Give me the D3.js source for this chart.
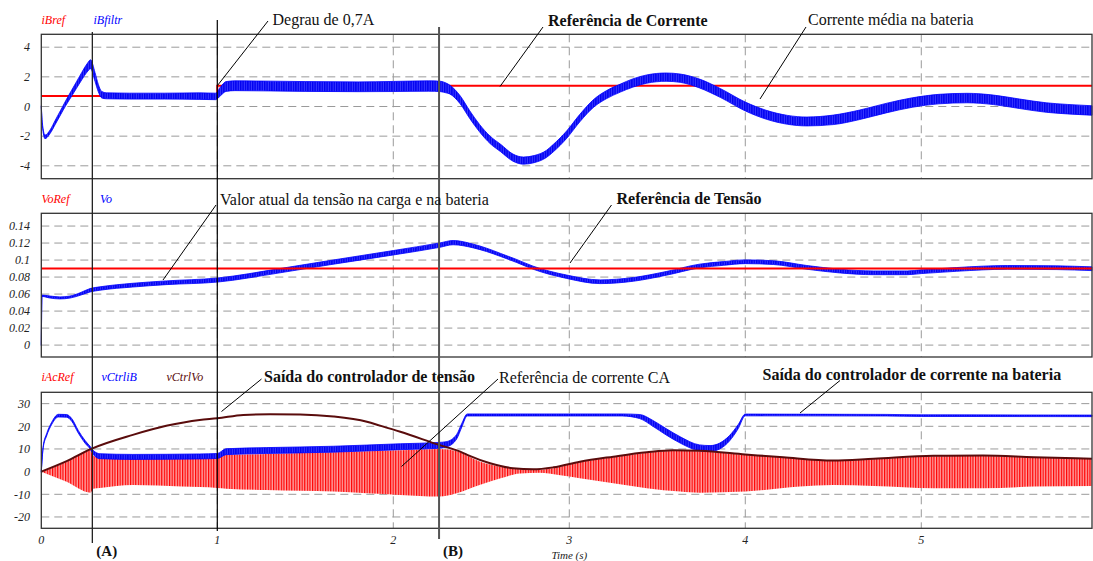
<!DOCTYPE html>
<html>
<head>
<meta charset="utf-8">
<script src="https://cdn.jsdelivr.net/npm/d3@7"></script>
<style>
  html, body { margin: 0; padding: 0; background: #fff; }
  svg { display: block; }
  text { font-family: "Liberation Serif", "Times New Roman", serif; }
</style>
</head>
<body>
<svg id="chart" width="1093" height="561"></svg>
<script>
// ---------- data ----------
// time axis (s)
const xTicks = [0, 1, 2, 3, 4, 5];

// Panel 1: battery current
const iBTicks = [-4, -2, 0, 2, 4];
const iBrefT = [0, 1.0, 1.0, 5.97];
const iBrefV = [0.7, 0.7, 1.4, 1.4];
const iBT = [0, 0.006, 0.021, 0.05, 0.08, 0.11, 0.14, 0.17, 0.2, 0.23, 0.26, 0.28, 0.305, 0.324, 0.343, 0.37, 0.5, 0.7, 0.9, 0.99, 1.02, 1.05, 1.1, 1.3, 1.5, 1.8, 2.0, 2.2, 2.27, 2.3, 2.32, 2.38, 2.435, 2.49, 2.55, 2.61, 2.68, 2.74, 2.8, 2.87, 2.91, 2.985, 3.06, 3.14, 3.21, 3.29, 3.36, 3.44, 3.55, 3.63, 3.74, 3.86, 4.0, 4.12, 4.24, 4.35, 4.5, 4.65, 4.8, 4.95, 5.1, 5.26, 5.41, 5.56, 5.71, 5.83, 5.97];
const iBV = [0, -1.2, -2.05, -1.7, -1.05, -0.4, 0.25, 0.85, 1.45, 2.05, 2.6, 2.85, 2.0, 1.24, 0.8, 0.72, 0.7, 0.7, 0.7, 0.68, 1.05, 1.35, 1.4, 1.38, 1.35, 1.33, 1.35, 1.38, 1.35, 1.25, 1.15, 0.45, -0.56, -1.46, -2.25, -2.8, -3.45, -3.65, -3.55, -3.2, -2.8, -1.9, -0.78, 0.23, 0.79, 1.24, 1.58, 1.85, 1.98, 1.91, 1.55, 0.9, 0, -0.56, -0.9, -1.01, -0.9, -0.56, -0.11, 0.27, 0.5, 0.57, 0.45, 0.18, -0.07, -0.18, -0.27];
const iBRipple = [0.05, 0.1, 0.12, 0.12, 0.14, 0.15, 0.17, 0.2, 0.22, 0.25, 0.28, 0.3, 0.3, 0.25, 0.22, 0.2, 0.2, 0.2, 0.22, 0.22, 0.3, 0.33, 0.33, 0.33, 0.33, 0.33, 0.34, 0.35, 0.35, 0.33, 0.3, 0.27, 0.26, 0.25, 0.25, 0.25, 0.24, 0.24, 0.24, 0.24, 0.25, 0.25, 0.25, 0.26, 0.27, 0.27, 0.28, 0.28, 0.28, 0.28, 0.3, 0.3, 0.3, 0.3, 0.3, 0.3, 0.32, 0.32, 0.32, 0.32, 0.32, 0.32, 0.32, 0.32, 0.32, 0.32, 0.32];

// Panel 2: output voltage
const voTicks = [0, 0.02, 0.04, 0.06, 0.08, 0.1, 0.12, 0.14];
const voRefT = [0, 5.97];
const voRefV = [0.09, 0.09];
const voT = [0, 0.004, 0.05, 0.106, 0.163, 0.22, 0.277, 0.333, 0.52, 0.71, 1.0, 1.356, 1.64, 2.0, 2.265, 2.34, 2.455, 2.53, 2.61, 2.7, 2.795, 2.985, 3.175, 3.364, 3.55, 3.74, 3.875, 4.0, 4.16, 4.35, 4.54, 4.73, 4.92, 5.0, 5.2, 5.49, 5.77, 5.97];
const voV = [0.0, 0.058, 0.0565, 0.0555, 0.0565, 0.06, 0.0645, 0.0665, 0.0705, 0.0733, 0.0765, 0.0875, 0.097, 0.1086, 0.1176, 0.1205, 0.1165, 0.112, 0.106, 0.099, 0.091, 0.0804, 0.0745, 0.0773, 0.0843, 0.093, 0.096, 0.098, 0.097, 0.0914, 0.087, 0.085, 0.085, 0.0863, 0.089, 0.0914, 0.091, 0.0898];
const voRipple = [0.0005, 0.0008, 0.0012, 0.0012, 0.0012, 0.0015, 0.002, 0.002, 0.0022, 0.0022, 0.0024, 0.0025, 0.0025, 0.0026, 0.0026, 0.0025, 0.0022, 0.002, 0.0018, 0.0018, 0.0018, 0.002, 0.0022, 0.0022, 0.0022, 0.0022, 0.0022, 0.0022, 0.0022, 0.0022, 0.0022, 0.0022, 0.0022, 0.0022, 0.0022, 0.0022, 0.0022, 0.0022];

// Panel 3: controller outputs and AC current reference
const ctrlTicks = [-20, -10, 0, 10, 20, 30];
const cbT = [0, 0.011, 0.03, 0.059, 0.097, 0.144, 0.173, 0.21, 0.248, 0.28, 0.295, 0.333, 0.52, 0.9, 1.0, 1.05, 1.28, 1.66, 2.04, 2.26, 2.3, 2.36, 2.39, 2.42, 3.3, 3.4, 3.475, 3.55, 3.63, 3.74, 3.8, 3.855, 3.91, 3.96, 4.0, 4.8, 5.0, 5.97];
const cbV = [0, 11, 16.2, 21.3, 24.7, 24.6, 22.8, 17.6, 13.2, 10.3, 8.5, 6.8, 6.5, 6.7, 6.9, 8.8, 9.3, 9.9, 11, 11.6, 12, 15.4, 20.6, 25, 25, 24.3, 21.3, 17.6, 14, 10.5, 10.2, 11.3, 14.7, 19.9, 25, 24.9, 24.7, 24.6];
const cbRipple = [0.3, 0.4, 0.5, 0.5, 0.6, 0.6, 0.6, 0.6, 0.6, 0.6, 0.9, 1.1, 1.1, 1.1, 1.1, 1.3, 1.3, 1.3, 1.3, 1.3, 1.2, 1.0, 0.8, 0.45, 0.45, 0.9, 1.3, 1.4, 1.4, 1.3, 1.3, 1.3, 1.2, 0.9, 0.4, 0.35, 0.35, 0.35];

const cvT = [0, 0.144, 0.28, 0.52, 0.71, 0.9, 1.0, 1.148, 1.3, 1.47, 1.66, 1.85, 1.925, 2.04, 2.26, 2.38, 2.42, 2.55, 2.68, 2.795, 2.91, 3.06, 3.25, 3.44, 3.59, 3.74, 4.0, 4.216, 4.5, 4.73, 5.07, 5.35, 5.64, 5.97];
const cvV = [0, 4.6, 9.9, 16.2, 20.2, 22.8, 23.5, 25.0, 25.3, 25.2, 24.3, 22, 20.3, 17.6, 11.8, 8.8, 7.4, 3.7, 1.5, 1.0, 1.9, 4.4, 6.6, 8.5, 9.4, 9.2, 7.6, 6.3, 4.9, 5.7, 7.0, 7.1, 6.4, 5.7];

const acT = [0, 0.144, 0.28, 0.295, 0.333, 0.52, 0.8, 1.0, 1.05, 1.28, 1.66, 2.04, 2.26, 2.36, 2.49, 2.61, 2.72, 2.83, 2.94, 3.06, 3.25, 3.44, 3.63, 3.74, 4.0, 4.31, 4.5, 4.73, 5.07, 5.35, 5.64, 5.97];
const acHi = [0, 4.4, 9.5, 7, 6.2, 6, 6, 6.2, 7.4, 7.8, 8.5, 9.4, 10, 9, 4.5, 2.2, 1.0, 0.8, 2, 4.2, 6.4, 8.3, 9.2, 9.0, 7.4, 5.8, 4.8, 5.5, 6.8, 6.9, 6.2, 5.5];
const acLo = [0, -4.5, -9.3, -7.5, -7.2, -5.9, -6.6, -7.2, -7.5, -8.1, -8.8, -10.3, -11, -9.5, -5.9, -2.9, -0.8, -0.5, -1.5, -2.9, -5.1, -7.3, -8.8, -9.3, -8.8, -6.6, -5.9, -6.3, -7.3, -7.3, -6.6, -6.3];

// event markers (s)
const markerT = [0.29, 1.0, 2.26];
const markerText = ["(A)", "", "(B)"];

// ---------- drawing ----------
const svg = d3.select("#chart");
const x = d3.scaleLinear().domain([0, 5.97]).range([41.3, 1092]);

const RED = "#ff0000", BLUE = "#0000ff", BROWN = "#5a0c0c", GRID = "#9a9a9a";

const defs = svg.append("defs");
function stripes(id, bg, fg, w, lw) {
  const p = defs.append("pattern").attr("id", id).attr("patternUnits", "userSpaceOnUse")
    .attr("width", w).attr("height", 8);
  p.append("rect").attr("width", w).attr("height", 8).attr("fill", bg);
  p.append("rect").attr("x", 0).attr("width", lw).attr("height", 8).attr("fill", fg);
}
stripes("blueRipple", "#3a3aff", "#0000f0", 2.4, 1.4);
stripes("redAc", "#ffa0a0", "#ff0000", 2.6, 1.2);

function zipBand(t, c, h) { return t.map((tt, i) => ({ t: tt, c: c[i], h: h[i] })); }
function zip(t, v) { return t.map((tt, i) => ({ t: tt, v: v[i] })); }

function panel(top, bottom, domain, ticks, fmt) {
  const y = d3.scaleLinear().domain(domain).range([bottom, top]);
  const g = svg.append("g");
  // horizontal dashed grid
  g.selectAll("line.h").data(ticks).join("line")
    .attr("x1", x(0)).attr("x2", x(5.97))
    .attr("y1", d => y(d)).attr("y2", d => y(d))
    .attr("stroke", GRID).attr("stroke-width", 1).attr("stroke-dasharray", "8,5");
  // vertical dashed grid
  g.selectAll("line.v").data(xTicks.slice(1)).join("line")
    .attr("x1", d => x(d)).attr("x2", d => x(d))
    .attr("y1", top).attr("y2", bottom)
    .attr("stroke", GRID).attr("stroke-width", 1).attr("stroke-dasharray", "8,5");
  // tick labels
  g.selectAll("text.tick").data(ticks).join("text")
    .attr("x", 30).attr("y", d => y(d)).attr("dy", "0.35em")
    .attr("text-anchor", "end").attr("font-size", 12).attr("font-style", "italic")
    .attr("fill", "#222").text(fmt);
  return { y, g, top, bottom };
}

function frame(p) {
  p.g.append("rect").attr("x", x(0)).attr("y", p.top)
    .attr("width", x(5.97) - x(0)).attr("height", p.bottom - p.top)
    .attr("fill", "none").attr("stroke", "#333").attr("stroke-width", 1.3);
}

function band(p, data, fill) {
  const area = d3.area().curve(d3.curveMonotoneX)
    .x(d => x(d.t)).y0(d => p.y(d.c - d.h)).y1(d => p.y(d.c + d.h));
  p.g.append("path").datum(data).attr("d", area).attr("fill", fill)
    .attr("stroke", BLUE).attr("stroke-width", 0.8);
}

function line(p, data, color, width, curve) {
  const l = d3.line().curve(curve || d3.curveMonotoneX).x(d => x(d.t)).y(d => p.y(d.v));
  p.g.append("path").datum(data).attr("d", l).attr("fill", "none")
    .attr("stroke", color).attr("stroke-width", width);
}

function legend(yPos, items) {
  items.forEach(([txt, xp, col]) => {
    svg.append("text").attr("x", xp).attr("y", yPos).attr("dy", "0.35em")
      .attr("font-size", 12).attr("font-style", "italic").attr("fill", col).text(txt);
  });
}

function note(txt, tx, ty, bold, lx1, ly1, lx2, ly2) {
  svg.append("line").attr("x1", lx1).attr("y1", ly1).attr("x2", lx2).attr("y2", ly2)
    .attr("stroke", "#000").attr("stroke-width", 1);
  svg.append("text").attr("x", tx).attr("y", ty).attr("dy", "0.35em")
    .attr("font-size", 16).attr("font-weight", bold ? "bold" : "normal")
    .attr("fill", "#111").text(txt);
}

// Panel 1
const p1 = panel(34.3, 178.7, [-4.87, 4.87], iBTicks, d => d);
line(p1, zip(iBrefT, iBrefV), RED, 2, d3.curveLinear);
band(p1, zipBand(iBT, iBV, iBRipple), "url(#blueRipple)");
frame(p1);
legend(20, [["iBref", 41.5, RED], ["iBfiltr", 93.5, BLUE]]);

// Panel 2
const p2 = panel(213.3, 357, [-0.014, 0.155], voTicks, d => d3.format("")(+d.toFixed(2)));
band(p2, zipBand(voT, voV, voRipple), "url(#blueRipple)");
line(p2, zip(voRefT, voRefV), RED, 2, d3.curveLinear);
frame(p2);
legend(199, [["VoRef", 41.5, RED], ["Vo", 100, BLUE]]);

// Panel 3
const p3 = panel(392.3, 528.3, [-25, 35], ctrlTicks, d => d);
{
  const acData = acT.map((t, i) => ({ t, hi: acHi[i], lo: acLo[i] }));
  const area = d3.area().curve(d3.curveMonotoneX)
    .x(d => x(d.t)).y0(d => p3.y(d.lo)).y1(d => p3.y(d.hi));
  p3.g.append("path").datum(acData).attr("d", area).attr("fill", "url(#redAc)");
}
band(p3, zipBand(cbT, cbV, cbRipple), "url(#blueRipple)");
line(p3, zip(cvT, cvV), BROWN, 2);
frame(p3);
legend(377, [["iAcRef", 41.5, RED], ["vCtrliB", 101.5, BLUE], ["vCtrlVo", 166.5, BROWN]]);

// time axis labels
svg.selectAll("text.xt").data(xTicks).join("text")
  .attr("x", d => x(d)).attr("y", 540).attr("dy", "0.35em")
  .attr("text-anchor", "middle").attr("font-size", 12).attr("font-style", "italic")
  .attr("fill", "#222").text(d => d);
svg.append("text").attr("x", x(3.0)).attr("y", 555).attr("dy", "0.35em")
  .attr("text-anchor", "middle").attr("font-size", 11).attr("font-style", "italic")
  .attr("fill", "#222").text("Time (s)");

// event marker lines
const markerTop = [32, 20, 27], markerBottom = [543, 531, 539];
const markerStroke = ["#222", "#000", "#555"], markerWidth = [1.3, 1.2, 2];
markerT.forEach((t, i) => {
  svg.append("line").attr("x1", x(t)).attr("x2", x(t))
    .attr("y1", markerTop[i]).attr("y2", markerBottom[i])
    .attr("stroke", markerStroke[i]).attr("stroke-width", markerWidth[i]);
  if (markerText[i]) {
    svg.append("text").attr("x", x(t) + 4).attr("y", 551).attr("dy", "0.35em")
      .attr("font-size", 15).attr("font-weight", "bold").attr("fill", "#111").text(markerText[i]);
  }
});

// annotations
note("Degrau de 0,7A", 272.5, 19, false, 268, 21, x(1.0), p1.y(1.4));
note("Referência de Corrente", 548, 20.5, true, 543, 27, 500, 86.5);
note("Corrente média na bateria", 808, 19, false, 806, 27, 760, 99);
note("Valor atual da tensão na carga e na bateria", 220, 199, false, 216, 205, 163, 280);
note("Referência de Tensão", 616.5, 198.5, true, 611.5, 205, 570, 263);
note("Saída do controlador de tensão", 264, 376.5, true, 261.5, 379, 221.5, 411.5);
note("Referência de corrente CA", 499, 377, false, 498, 379, 401.5, 466.5);
note("Saída do controlador de corrente na bateria", 762.5, 374, true, 840, 380.5, 800, 413);
</script>
</body>
</html>
